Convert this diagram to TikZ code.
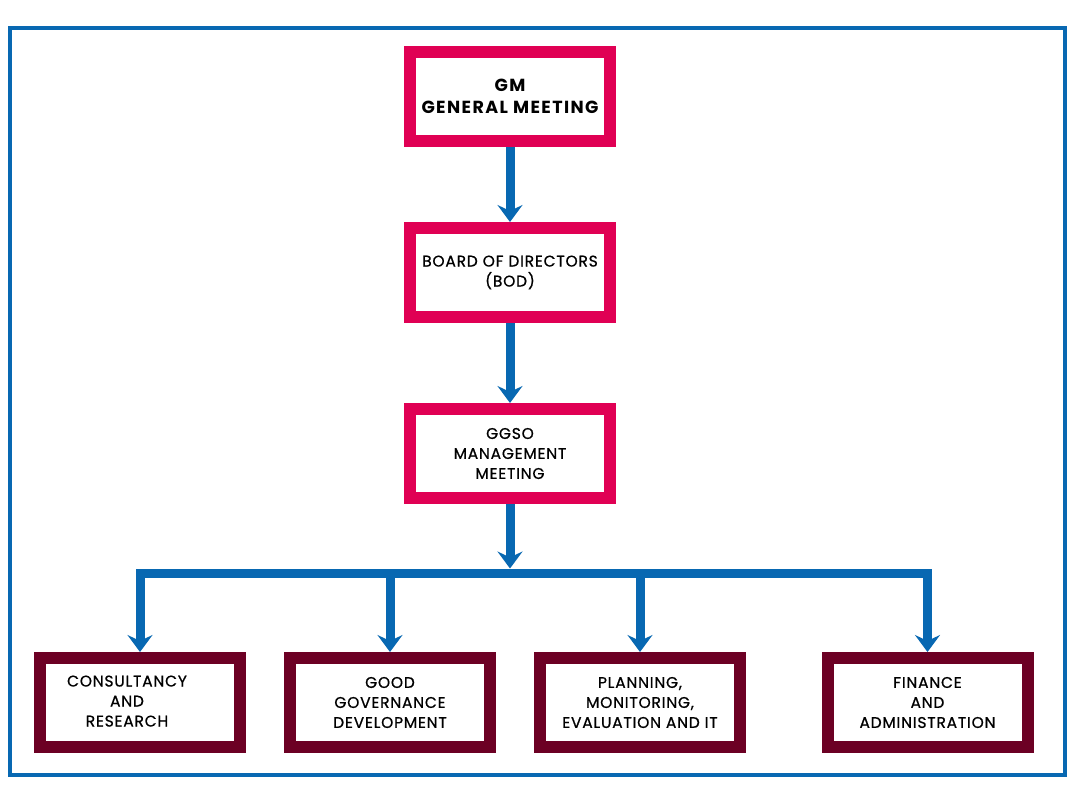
\documentclass[tikz,border=0pt]{standalone}
\usepackage{fontspec}
\setmainfont{Poppins}
\newfontfamily\medf{Poppins}[FakeBold=0.7, LetterSpace=5]
\newfontfamily\boldf{Poppins}[LetterSpace=8]
\usetikzlibrary{arrows.meta}
\definecolor{pinkc}{RGB}{224,0,84}
\definecolor{maroonc}{RGB}{108,0,36}
\definecolor{bluec}{RGB}{8,104,178}
\tikzset{
  topbox/.style={draw=pinkc, line width=12pt, fill=white, minimum width=200pt, minimum height=89pt, align=center, inner sep=0pt, font=\medf\fontsize{15.5}{20}\selectfont},
  botbox/.style={draw=maroonc, line width=12pt, fill=white, minimum width=200pt, minimum height=89pt, align=center, inner sep=0pt, font=\medf\fontsize{15.5}{20}\selectfont},
  conn/.style={draw=bluec, line width=9pt, line join=miter, -{Stealth[length=17pt,width=25pt,inset=6pt]}},
}
\begin{document}
\begin{tikzpicture}[x=1pt,y=-1pt]
\useasboundingbox (0,0) rectangle (1080,792);
\fill[white] (0,0) rectangle (1080,792);
\draw[bluec, line width=4pt] (10,28) rectangle (1065,775);

\node[topbox, font=\boldf\bfseries\fontsize{17.5}{22}\selectfont] (gm) at (510,96.5) {GM\\GENERAL MEETING};
\node[topbox] (bod) at (510,272.5) {BOARD OF DIRECTORS\\(BOD)};
\node[topbox] (ggso) at (510,453.5) {GGSO\\MANAGEMENT\\MEETING};

\node[botbox] (c1) at (140,702.5) {\begin{tabular}{@{}c@{}}CONSULTANCY\\AND\\RESEARCH\end{tabular}\hspace*{26pt}};
\node[botbox] (c2) at (390,702.5) {GOOD\\GOVERNANCE\\DEVELOPMENT};
\node[botbox] (c3) at (640,702.5) {PLANNING,\\MONITORING,\\EVALUATION AND IT};
\node[botbox] (c4) at (927.5,702.5) {FINANCE\\AND\\ADMINISTRATION};

\coordinate (bus) at (510,573);
\coordinate (bustop) at (510,568.5);

\draw[conn] (gm.south) -- (bod.north);
\draw[conn] (bod.south) -- (ggso.north);
\draw[conn] (ggso.south) -- (bustop);
\draw[conn] (bus) -| (c1.north);
\draw[conn] (bus) -| (c2.north);
\draw[conn] (bus) -| (c3.north);
\draw[conn] (bus) -| (c4.north);
\end{tikzpicture}
\end{document}
